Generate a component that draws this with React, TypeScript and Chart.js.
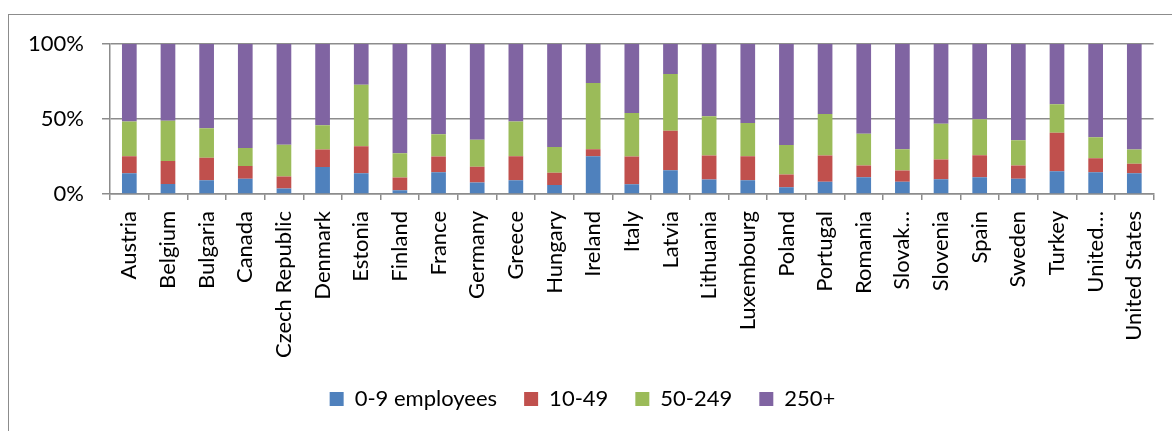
import React, { useEffect, useRef } from "react";
import { Chart, registerables } from "chart.js";

Chart.register(...registerables);

const categories = [
  "Austria", "Belgium", "Bulgaria", "Canada", "Czech Republic", "Denmark", "Estonia",
  "Finland", "France", "Germany", "Greece", "Hungary", "Ireland", "Italy", "Latvia",
  "Lithuania", "Luxembourg", "Poland", "Portugal", "Romania", "Slovak…", "Slovenia",
  "Spain", "Sweden", "Turkey", "United…", "United States",
];

const micro = [13.8, 6.7, 9.1, 10.2, 3.6, 18.0, 13.8, 2.4, 14.4, 7.6, 9.1, 6.0, 25.1, 6.4, 15.8, 9.6, 9.1, 4.4, 8.2, 11.1, 8.2, 9.8, 11.1, 10.2, 15.1, 14.4, 13.8];
const small = [11.3, 15.3, 15.1, 8.5, 8.0, 11.6, 18.0, 8.5, 10.5, 10.6, 16.0, 8.2, 4.7, 18.5, 26.4, 16.0, 16.0, 8.5, 17.4, 7.8, 7.4, 13.1, 14.7, 8.7, 25.8, 9.4, 6.4];
const medium = [23.3, 26.9, 19.6, 12.0, 21.3, 16.2, 41.1, 16.2, 14.9, 18.0, 23.3, 17.1, 44.2, 29.1, 37.8, 26.2, 22.2, 19.8, 27.7, 21.3, 14.2, 24.0, 24.0, 16.9, 18.9, 14.0, 9.4];
const large = [51.6, 51.1, 56.2, 69.3, 67.1, 54.2, 27.1, 72.9, 60.2, 63.8, 51.6, 68.7, 26.0, 46.0, 20.0, 48.2, 52.7, 67.3, 46.7, 59.8, 70.2, 53.1, 50.2, 64.2, 40.2, 62.2, 70.4];

const seriesNames = ["0-9 employees", "10-49", "50-249", "250+"];
const seriesColors = ["#4F81BD", "#C0504D", "#9BBB59", "#8064A2"];
const yTicks = [0, 50, 100];

const FONT = "Lato, 'Noto Sans', sans-serif";
const GRID = "#8c8c8c";

export default function App() {
  const ref = useRef<HTMLCanvasElement | null>(null);

  useEffect(() => {
    document.body.style.overflow = "hidden";
    const canvas = ref.current;
    if (!canvas) return;
    const values = [micro, small, medium, large];
    const chart = new Chart(canvas, {
      type: "bar",
      data: {
        labels: categories,
        datasets: seriesNames.map((name, i) => ({
          label: name,
          data: values[i],
          backgroundColor: seriesColors[i],
          borderWidth: 0,
          barPercentage: 0.38,
          categoryPercentage: 1,
        })),
      },
      options: {
        animation: false,
        responsive: false,
        maintainAspectRatio: false,
        layout: { padding: { top: 29, right: 16, bottom: 11, left: 0 } },
        plugins: {
          tooltip: { enabled: false },
          legend: {
            position: "bottom",
            labels: {
              boxWidth: 14,
              boxHeight: 14,
              padding: 27,
              color: "#000",
              font: { family: FONT, size: 22 },
            },
          },
        },
        scales: {
          x: {
            stacked: true,
            afterFit: (scale: any) => {
              scale.height = scale.height - 8;
            },
            grid: {
              offset: true,
              drawOnChartArea: false,
              drawTicks: true,
              tickLength: 6,
              color: GRID,
              lineWidth: 1.5,
            },
            border: { display: true, color: GRID, width: 1.5 },
            ticks: {
              autoSkip: false,
              maxRotation: 90,
              minRotation: 90,
              padding: 11,
              color: "#000",
              font: { family: FONT, size: 22 },
            },
          },
          y: {
            stacked: true,
            min: 0,
            max: 100,
            afterBuildTicks: (scale: any) => {
              scale.ticks = yTicks.map((v) => ({ value: v }));
            },
            afterFit: (scale: any) => {
              scale.width = 101;
            },
            grid: {
              drawTicks: true,
              tickLength: 8,
              color: GRID,
              lineWidth: 1.5,
            },
            border: { display: true, color: GRID, width: 1.5 },
            ticks: {
              padding: 18,
              color: "#000",
              font: { family: FONT, size: 22, lineHeight: 1 },
              callback: (v: any) => v + "%",
            },
          },
        },
      },
    });
    return () => chart.destroy();
  }, []);

  return (
    <div
      style={{
        position: "fixed",
        left: 8,
        top: 14,
        width: 1163,
        height: 420,
        borderTop: "1px solid #8c8c8c",
        borderLeft: "1px solid #8c8c8c",
        background: "#fff",
      }}
    >
      <canvas ref={ref} width={1163} height={416} style={{ display: "block" }} />
    </div>
  );
}
